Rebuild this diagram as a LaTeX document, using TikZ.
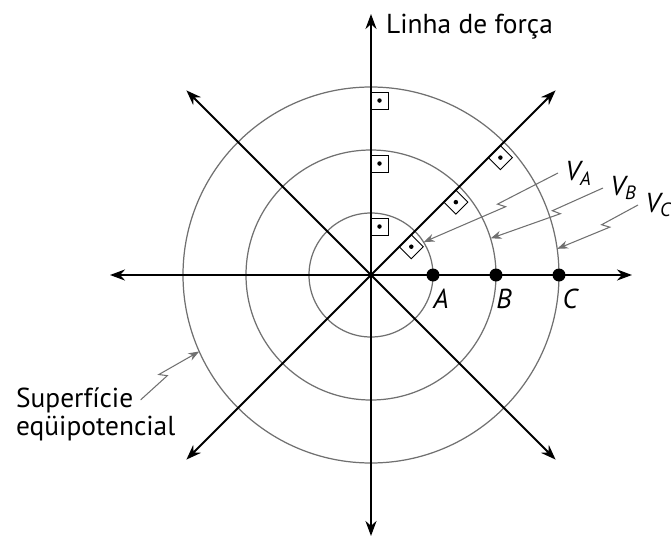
\documentclass[tikz,border=0pt]{standalone}
\usepackage{fontspec}
\setmainfont{PT Sans}
\usetikzlibrary{arrows.meta,calc,positioning}
\definecolor{equigray}{HTML}{707070}

\begin{document}
\begin{tikzpicture}[>={Stealth[length=3mm,width=2.2mm]},
  fieldline/.style={->,line width=1.2pt},
  equip/.style={equigray,line width=0.7pt},
  leader/.style={equigray,line width=0.6pt,-{Stealth[length=2.2mm,width=1.6mm]}},
  lbl/.style={font=\fontsize{15.6}{18}\selectfont,inner sep=4pt},
  ptdot/.style={circle,fill=black,inner sep=0pt,minimum size=2.6mm}]
\useasboundingbox (-7.42,-5.26) rectangle (6.0,5.5);
\coordinate (O) at (0,0);
% superficies equipotenciais
\foreach \r in {1.24,2.5,3.76} \draw[equip] (O) circle (\r);
% linhas de forca
\foreach \a in {0,45,...,315} {
  \coordinate (tip\a) at (\a:5.22);
  \draw[fieldline] (O) -- (tip\a);
}
% angulos retos
\foreach \a in {45,90} \foreach \r in {1.24,2.5,3.76} {
  \draw[line width=0.5pt,shift={(\a:\r)},rotate=\a] (-0.1,0) rectangle (-0.44,-0.34);
  \fill[shift={(\a:\r)},rotate=\a] (-0.27,-0.17) circle (0.045);
}
\node[ptdot] (pA) at (1.24,0) {};
\node[ptdot] (pB) at (2.5,0) {};
\node[ptdot] (pC) at (3.76,0) {};
\node[lbl,anchor=base] at ([xshift=0.16cm,yshift=-0.66cm]pA) {\itshape A};
\node[lbl,anchor=base] at ([xshift=0.16cm,yshift=-0.66cm]pB) {\itshape B};
\node[lbl,anchor=base] at ([xshift=0.22cm,yshift=-0.66cm]pC) {\itshape C};
\node[lbl,anchor=base west,inner sep=1pt] (force) at (0.26,4.84) {Linha de força};
% potenciais
\coordinate (tA) at (32:1.24);
\coordinate (tB) at (17:2.5);
\coordinate (tC) at (8:3.76);
\coordinate (tS) at (204:3.76);
\node[lbl,anchor=west] (VA) at (3.74,2.04) {\itshape V\textsubscript{A}};
\node[lbl,anchor=west] (VB) at (4.64,1.74) {\itshape V\textsubscript{B}};
\node[lbl,anchor=west] (VC) at (5.34,1.40) {\itshape V\textsubscript{C}};
\node[lbl,anchor=base west,inner sep=1pt] (surf1) at (-7.14,-2.64) {Superfície};
\node[lbl,anchor=base west,inner sep=1pt] (surf2) at ([yshift=-0.56cm]surf1.base west) {eqüipotencial};
\draw[leader] (VA.west) -- ($(VA.west)!0.45!(tA)$) -- ($(VA.west)!0.45!(tA)!0.17cm!135:(tA)$) -- (tA);
\draw[leader] (VB.west) -- ($(VB.west)!0.45!(tB)$) -- ($(VB.west)!0.45!(tB)!0.17cm!135:(tB)$) -- (tB);
\draw[leader] (VC.west) -- ($(VC.west)!0.45!(tC)$) -- ($(VC.west)!0.45!(tC)!0.17cm!135:(tC)$) -- (tC);
\draw[leader] ([xshift=3pt]surf1.east) -- ($(surf1.east)!0.5!(tS)$) -- ($(surf1.east)!0.5!(tS)!0.17cm!135:(tS)$) -- (tS);
\end{tikzpicture}
\end{document}
